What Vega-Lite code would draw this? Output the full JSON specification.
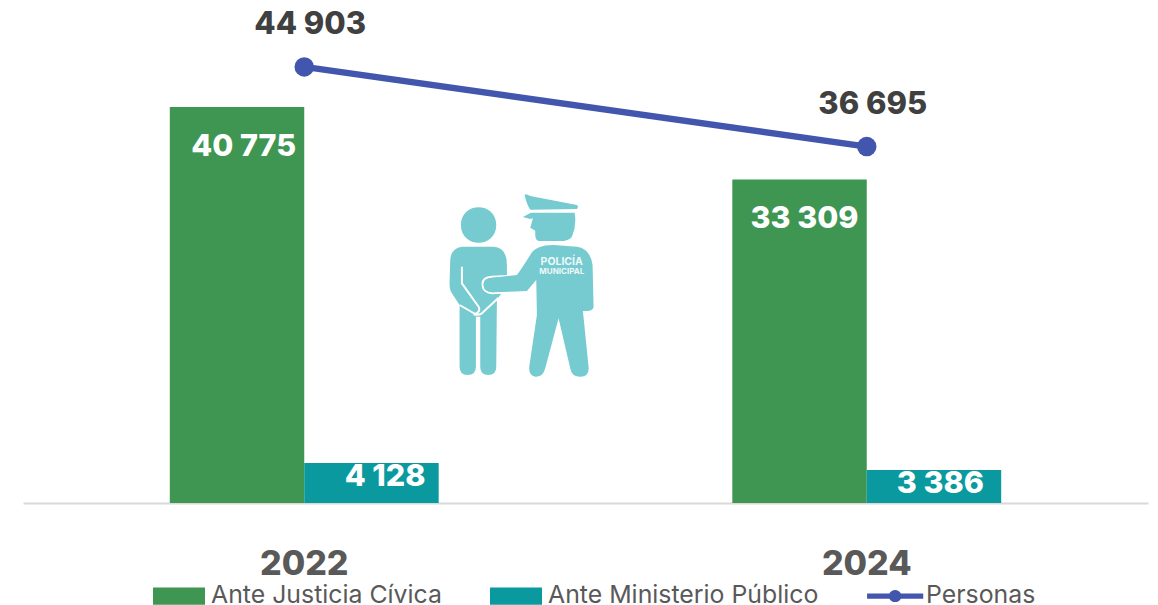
{
"$schema":"https://vega.github.io/schema/vega-lite/v6.json",
"autosize":"none",
"width":1125,"height":503,
"padding":{"left":23,"top":0,"right":10,"bottom":102},
"background":"white",
"config":{"view":{"stroke":null},"locale":{"number":{"decimal":".","thousands":" ","grouping":[3],"currency":["$",""]}},"font":"Inter"},
"datasets":{"d":[
{"anio":"2022","serie":"Ante Justicia Cívica","valor":40775},
{"anio":"2022","serie":"Ante Ministerio Público","valor":4128},
{"anio":"2022","serie":"Personas","valor":44903},
{"anio":"2024","serie":"Ante Justicia Cívica","valor":33309},
{"anio":"2024","serie":"Ante Ministerio Público","valor":3386},
{"anio":"2024","serie":"Personas","valor":36695}
],"icono":[{"anio":"2022","valor":0,"policia":"POLICÍA","municipal":"MUNICIPAL"}]},
"data":{"name":"d"},
"encoding":{
"x":{"field":"anio","type":"nominal","scale":{"paddingInner":0.522,"paddingOuter":0.261},
"axis":{"title":null,"ticks":false,"labelAngle":0,"labelFont":"Inter","labelFontSize":34,"labelFontWeight":800,"labelColor":"#595959","labelPadding":44,"domainColor":"#d9d9d9","domainWidth":2,"grid":false}},
"y":{"field":"valor","type":"quantitative","scale":{"domain":[0,51790],"nice":false},"axis":null}
},
"layer":[
{"transform":[{"filter":"datum.serie!=='Personas'"}],
 "mark":{"type":"bar"},
 "encoding":{"xOffset":{"field":"serie","type":"nominal","scale":{"domain":["Ante Justicia Cívica","Ante Ministerio Público"],"paddingInner":0,"paddingOuter":0}},
 "color":{"field":"serie","type":"nominal","scale":{"domain":["Ante Justicia Cívica","Ante Ministerio Público","Personas"],"range":["#3e9652","#09999e","#4356ad"]},
 "legend":{"title":null,"orient":"none","legendX":130,"legendY":570,"direction":"horizontal","columns":3,"padding":0,"symbolSize":2704,"labelFont":"Inter","labelFontSize":24.85,"labelColor":"#595959","labelOffset":6,"columnPadding":48,"labelLimit":400,"symbolStrokeWidth":0,
 "encode":{"labels":{"update":{"dx":{"signal":"datum.value==='Personas'?-10:0"}}},"symbols":{"update":{"shape":{"signal":"datum.value==='Personas'?'M-1.42,-0.1H-0.56A0.25,0.25 0 0 1 -0.12,-0.1H0.74V0.1H-0.12A0.25,0.25 0 0 1 -0.56,0.1H-1.42Z':'M-1,-0.33H1V0.33H-1Z'"},"fill":{"signal":"datum.value==='Personas'?'#4356ad':datum.value==='Ante Ministerio Público'?'#09999e':'#3e9652'"},"stroke":{"value":"transparent"},"opacity":{"value":1}}}}}}}},
{"transform":[{"filter":"datum.serie==='Personas'"}],
 "mark":{"type":"line","strokeWidth":6.5,"color":"#4356ad"},"encoding":{"color":{"field":"serie","type":"nominal"}}},
{"transform":[{"filter":"datum.serie==='Personas'"}],
 "mark":{"type":"point","filled":true,"opacity":1,"size":380},"encoding":{"color":{"field":"serie","type":"nominal"}}},
{"transform":[{"filter":"datum.serie==='Personas'"}],
 "mark":{"type":"text","fontSize":31,"fontWeight":800,"color":"#404040","dx":6,"dy":-42,"baseline":"middle"},
 "encoding":{"text":{"field":"valor","type":"quantitative","format":",d"}}},
{"transform":[{"filter":"datum.serie==='Ante Justicia Cívica'"}],
 "mark":{"type":"text","fontSize":30.5,"fontWeight":800,"color":"white","align":"right","dx":59,"dy":40,"baseline":"middle"},
 "encoding":{"text":{"field":"valor","type":"quantitative","format":",d"},"xOffset":{"field":"serie","type":"nominal","scale":{"domain":["Ante Justicia Cívica","Ante Ministerio Público"],"paddingInner":0,"paddingOuter":0}}}},
{"transform":[{"filter":"datum.serie==='Ante Ministerio Público'&&datum.anio==='2022'"}],
 "mark":{"type":"text","fontSize":30.5,"fontWeight":800,"color":"white","align":"right","dx":54,"dy":14,"baseline":"middle"},
 "encoding":{"text":{"field":"valor","type":"quantitative","format":",d"},"xOffset":{"field":"serie","type":"nominal","scale":{"domain":["Ante Justicia Cívica","Ante Ministerio Público"],"paddingInner":0,"paddingOuter":0}}}},
{"transform":[{"filter":"datum.serie==='Ante Ministerio Público'&&datum.anio==='2024'"}],
 "mark":{"type":"text","fontSize":30.5,"fontWeight":800,"color":"white","align":"right","dx":50,"dy":14,"baseline":"middle"},
 "encoding":{"text":{"field":"valor","type":"quantitative","format":",d"},"xOffset":{"field":"serie","type":"nominal","scale":{"domain":["Ante Justicia Cívica","Ante Ministerio Público"],"paddingInner":0,"paddingOuter":0}}}},
{"data":{"name":"icono"},
 "mark":{"type":"point","filled":true,"opacity":1,"size":0.4444,"xOffset":126,"yOffset":-318,"color":"#75cbd0",
 "shape":"M92,120C92,49 198,49 198,120C198,191 92,191 92,120ZM95,185L190,185Q230,187 230,240L230,300L200,345L198,545Q198,570 174,570Q150,570 150,545L150,395L137,395L137,545Q137,570 112,570Q88,570 88,545L88,360L62,320Q57,310 58,290L60,225Q62,190 95,185ZM283,30Q285,24 300,33L440,60Q446,66 440,72L300,74Q290,60 283,30ZM278,96L302,83L433,83Q440,120 425,155Q415,170 380,168L325,168Q315,165 315,150L315,137L300,128L308,100L300,102Z"}},
{"data":{"name":"icono"},
 "mark":{"type":"point","filled":false,"opacity":1,"size":0.4444,"xOffset":126,"yOffset":-318,"color":"white","strokeWidth":2,"fill":"transparent",
 "shape":"M95,245L95,295L145,365Q152,380 135,387L88,360M205,338L155,385Q145,392 130,388M232,273L185,275Q155,277 157,300Q158,322 185,325L240,322"}},
{"data":{"name":"icono"},
 "mark":{"type":"point","filled":true,"opacity":1,"size":0.4444,"xOffset":126,"yOffset":-318,"color":"#75cbd0",
 "shape":"M370,180L440,185Q480,190 487,240L490,365Q488,378 470,378L458,378L475,545Q478,575 450,575Q425,577 420,550L385,400L345,550Q338,577 315,575Q295,572 297,545L320,390L318,285L290,318L185,322Q160,320 160,300Q160,280 185,278L260,270Q275,250 300,210Q315,180 370,180Z"}},
{"data":{"name":"icono"},
 "mark":{"type":"text","fontSize":10.5,"fontWeight":700,"color":"#eef9f9","dx":257.5,"dy":-241,"baseline":"middle"},
 "encoding":{"text":{"field":"policia"}}},
{"data":{"name":"icono"},
 "mark":{"type":"text","fontSize":8,"fontWeight":700,"color":"#eef9f9","dx":257.5,"dy":-231,"baseline":"middle"},
 "encoding":{"text":{"field":"municipal"}}}
]
}
